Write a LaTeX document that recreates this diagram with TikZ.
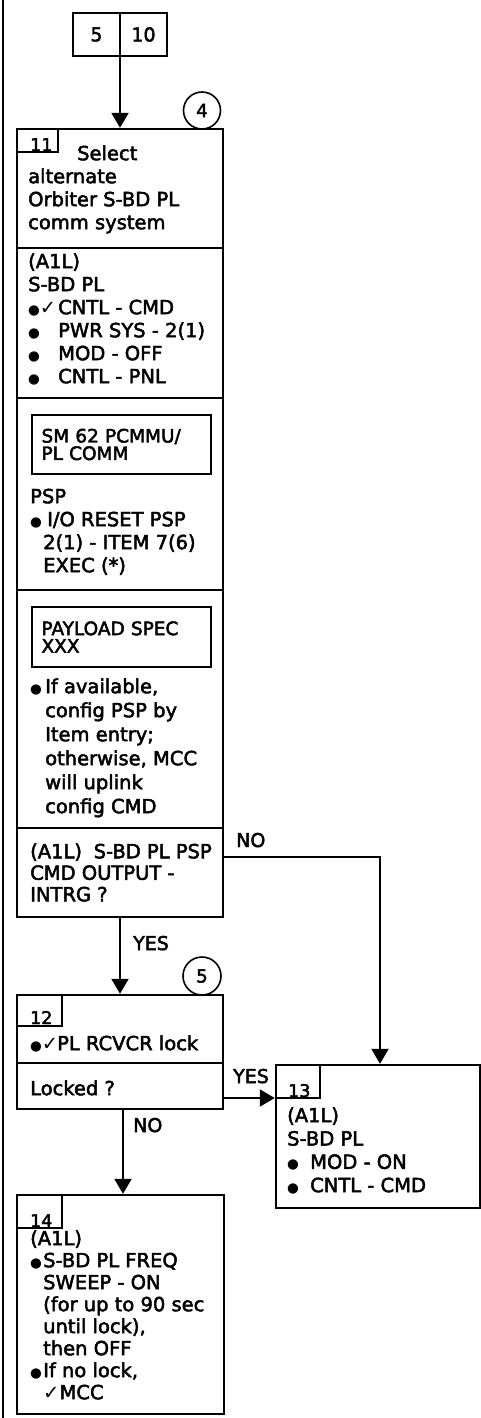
\documentclass[tikz,border=0pt]{standalone}
\usepackage{fontspec}
\setmainfont{DejaVu Sans}[FakeBold=2.5]
\newfontfamily\symfont{DejaVu Sans}
\usetikzlibrary{arrows.meta}
\newcommand{\bul}{{\symfont\fontsize{13.5}{13.5}\selectfont ●}}
\newcommand{\chk}{{\symfont ✓}}
\begin{document}
\begin{tikzpicture}[x=1pt,y=-1pt,
  sect/.style={draw, line width=2.4pt, inner sep=0pt, minimum width=206pt},
  tabbox/.style={draw, line width=1.8pt, inner sep=0pt},
  ibox/.style={draw, line width=2.2pt, inner xsep=9.5pt, inner ysep=0pt, align=left,
     font=\fontsize{18.5}{17.5}\selectfont},
  txt/.style={anchor=north west, inner sep=0pt, align=left, font=\fontsize{19.5}{23}\selectfont},
  lbl/.style={anchor=base west, inner sep=0pt, font=\fontsize{19}{23}\selectfont},
  num/.style={anchor=base west, inner sep=0pt, font=\fontsize{17.5}{20}\selectfont},
  circ/.style={circle, draw, line width=1.6pt, inner sep=0pt, minimum size=37pt, font=\fontsize{18}{20}\selectfont},
  arr/.style={line width=2pt, -{Triangle[length=15pt,width=17pt]}},
  conn/.style={line width=2pt}
]
\fill[white] (0,0) rectangle (481,1418);
\useasboundingbox (0,0) rectangle (481,1418);
% left margin rule
\draw[line width=2.5pt] (3,0) -- (3,1418);

% top reference boxes
\node[tabbox, line width=2pt, minimum width=47pt, minimum height=43pt, font=\fontsize{19}{23}\selectfont] (tb5) at (96.5,34.5) {5};
\node[tabbox, line width=2pt, minimum width=47pt, minimum height=43pt, font=\fontsize{19}{23}\selectfont] (tb10) at (143.5,34.5) {10};

% main block 11
\node[sect, minimum height=119pt] (s1) at (120,188.5) {};
\node[sect, minimum height=150pt] (s2) at (120,323) {};
\node[sect, minimum height=192pt] (s3) at (120,494) {};
\node[sect, minimum height=238pt] (s4) at (120,709) {};
\node[sect, minimum height=89pt] (s5) at (120,872.5) {};
\node[tabbox, minimum width=41pt, minimum height=23pt] (t11) at (37.5,140.5) {};
\node[num] (n11) at (30,151) {11};
\node[circ] (c4) at (202,110.5) {4};

\node[txt] (x1) at (28,143.9) {\strut\hspace*{49pt}Select\\alternate\\Orbiter S-BD PL\\comm system};
\node[txt] (x2) at (28,251.9) {\strut(A1L)\\S-BD PL\\\makebox[30pt][l]{\bul\chk}CNTL - CMD\\\makebox[30pt][l]{\bul}PWR SYS - 2(1)\\\makebox[30pt][l]{\bul}MOD - OFF\\\makebox[30pt][l]{\bul}CNTL - PNL};
\node[ibox, text width=160pt, minimum height=59pt] (ib3) at (121.5,444.5) {SM 62 PCMMU/\\PL COMM};
\node[txt] (x3) at (30,486.9) {\strut PSP\\\makebox[17pt][l]{\bul}I/O RESET PSP\\\hspace*{13pt}2(1) - ITEM 7(6)\\\hspace*{13pt}EXEC (*)};
\node[ibox, text width=160pt, minimum height=60pt] (ib4) at (121.5,637) {PAYLOAD SPEC\\XXX};
\node[txt, font=\fontsize{19.5}{24}\selectfont] (x4) at (30,676.2) {\strut\makebox[15pt][l]{\bul}If available,\\\hspace*{15pt}config PSP by\\\hspace*{15pt}Item entry;\\\hspace*{15pt}otherwise, MCC\\\hspace*{15pt}will uplink\\\hspace*{15pt}config CMD};
\node[txt, font=\fontsize{19.5}{21.5}\selectfont] (x5) at (30,843) {\strut(A1L)\hspace*{0.6em}S-BD PL PSP\\CMD OUTPUT -\\INTRG ?};

% block 12
\node[circ, minimum size=38pt] (c5) at (202,976) {5};
\node[sect, minimum height=68pt] (b12a) at (120,1029) {};
\node[sect, minimum height=46pt] (b12b) at (120,1086) {};
\node[tabbox, minimum width=45pt, minimum height=31pt] (t12) at (39.5,1010.5) {};
\node[num] (n12) at (30,1024) {12};
\node[txt] (x12a) at (30,1033.9) {\strut\makebox[27pt][l]{\bul\chk}PL RCVCR lock};
\node[txt] (x12b) at (30,1078.9) {\strut Locked ?};

% block 13
\node[sect, minimum width=204pt, minimum height=143pt] (b13) at (378,1136.5) {};
\node[tabbox, minimum width=44pt, minimum height=33pt] (t13) at (298,1081.5) {};
\node[num] (n13) at (288,1097) {13};
\node[txt, font=\fontsize{19.5}{23.3}\selectfont] (x13) at (287,1105.7) {\strut(A1L)\\S-BD PL\\\makebox[23pt][l]{\bul}MOD - ON\\\makebox[23pt][l]{\bul}CNTL - CMD};

% block 14
\node[sect, minimum width=207pt, minimum height=219pt] (b14) at (120.5,1304.5) {};
\node[tabbox, minimum width=45pt, minimum height=33pt] (t14) at (39.5,1211.5) {};
\node[num] (n14) at (30,1227) {14};
\node[txt, font=\fontsize{19.5}{22}\selectfont] (x14) at (30,1229.6) {\strut(A1L)\\\makebox[13pt][l]{\bul}S-BD PL FREQ\\\hspace*{13pt}SWEEP - ON\\\hspace*{13pt}(for up to 90 sec\\\hspace*{13pt}until lock),\\\hspace*{13pt}then OFF\\\makebox[13pt][l]{\bul}If no lock,\\\hspace*{13pt}\chk MCC};

% connectors
\draw[arr] (s1.north |- tb5.south) -- (s1.north);
\coordinate (k1) at (380,857);
\draw[arr] (k1 -| s5.east) -- (k1) -- (k1 |- b13.north);
\node[lbl] (lno1) at (236,847) {NO};
\draw[arr] (s5.south) -- (b12a.north);
\node[lbl] (lyes1) at (133,950) {YES};
\draw[arr] ([yshift=-12pt]b12b.east) -- ([yshift=-12pt]b12b.east -| b13.west);
\node[lbl] (lyes2) at (233,1083) {YES};
\draw[arr] ([xshift=3pt]b12b.south) -- ([xshift=3pt]b12b.south |- b14.north);
\node[lbl] (lno2) at (133,1132) {NO};
\end{tikzpicture}
\end{document}
